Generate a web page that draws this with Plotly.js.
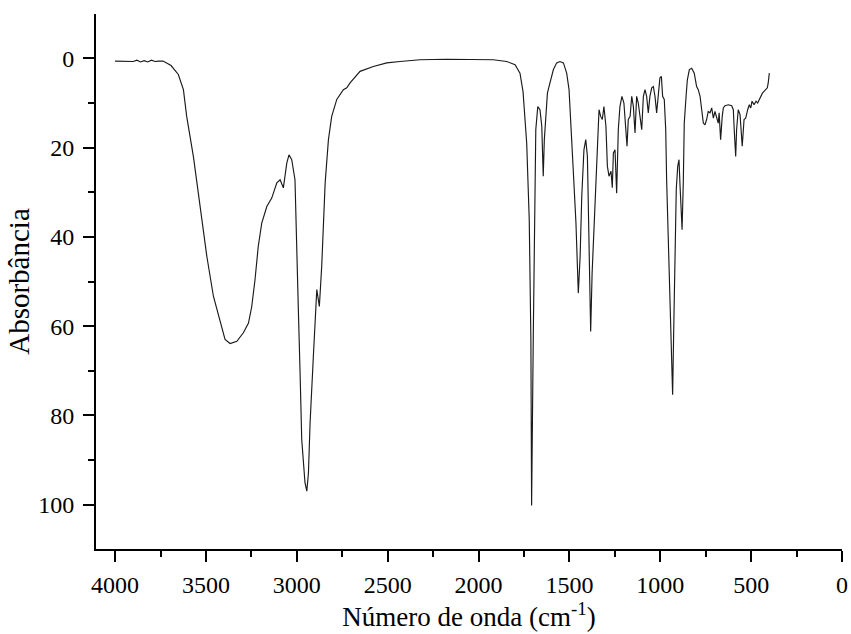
<!DOCTYPE html>
<html>
<head>
<meta charset="utf-8">
<script src="https://cdn.plot.ly/plotly-3.0.1.min.js"></script>
<style>html,body{margin:0;padding:0;background:#fff;}#chart{width:851px;height:634px;}</style>
</head>
<body>
<div id="chart"></div>
<script>
// IR spectrum
const wavenumber = [
 4000,3950,3900,3880,3860,3840,3820,3800,3780,3760,3736,3692,3652,3624,3606,3569,3532,3495,3459,3422,3395,3367,3330,3294,3266,3248,3230,3212,3193,3165,3138,3110,3092,3074,3055,3043,3028,3010,3000,2992,2982,2973,2955,2945,2936,2927,2909,2890,2876,2863,2844,2826,2808,2780,2744,2725,2707,2652,2579,2505,2432,2322,2175,1919,1845,1799,1772,1755,1735,1721,1712,1708,1699,1693,1685,1674,1662,1652,1647,1644,1638,1630,1621,1607,1588,1570,1552,1533,1515,1502,1491,1478,1464,1456,1451,1441,1432,1420,1410,1401,1396,1390,1383,1375,1365,1350,1337,1328,1319,1310,1299,1291,1282,1271,1264,1258,1249,1240,1231,1222,1211,1200,1189,1183,1176,1166,1157,1148,1139,1130,1121,1111,1102,1093,1084,1075,1066,1057,1047,1038,1029,1020,1011,1002,994,987,978,970,965,956,946,937,932,926,919,912,904,897,891,886,880,873,868,858,851,840,827,813,800,791,781,772,763,754,745,736,726,717,708,699,690,681,676,668,659,653,644,626,607,598,593,585,580,571,561,554,549,539,530,519,510,502,495,484,473,464,455,447,438,429,420,411,406,402,400
];
const absorbance = [
 0.6,0.6,0.7,0.4,0.8,0.5,0.8,0.4,0.7,0.6,0.6,1.6,3.6,7.0,13.0,22.0,33.2,44.4,53.3,59.3,63.0,63.9,63.4,61.5,59.3,55.6,49.6,42.1,36.9,33.2,31.3,27.9,27.2,29.0,23.4,21.6,22.7,27.2,40.6,55.6,70.5,85.4,95.1,97.0,92.9,81.7,66.8,51.8,55.6,46.6,27.9,18.2,13.0,9.2,7.0,6.6,5.5,2.9,1.8,1.0,0.7,0.3,0.2,0.3,0.7,1.4,3.3,7.5,19.0,36.1,63.0,100.2,63.0,35.4,16.0,10.8,11.5,15.2,21.2,26.4,18.2,12.2,7.8,5.5,2.5,1.0,0.7,1.0,3.3,7.0,14.5,25.7,36.9,45.1,52.6,44.4,30.9,20.5,18.2,22.0,33.2,48.1,61.2,48.1,37.6,22.0,11.5,13.0,13.7,10.8,15.2,24.2,26.4,25.3,29.0,21.2,20.5,30.2,16.0,10.8,8.5,10.0,16.0,19.7,13.7,13.0,8.5,10.8,16.7,8.5,10.0,13.0,16.0,8.5,7.0,8.5,12.2,8.5,6.6,6.3,8.5,12.2,7.4,4.4,4.0,8.5,9.2,16.0,27.2,42.1,53.3,68.2,75.4,60.8,42.1,29.4,24.2,22.7,28.7,34.6,38.4,27.2,14.5,8.5,4.8,2.5,2.2,3.3,6.3,7.0,8.5,11.5,14.5,14.9,13.7,11.9,12.2,11.1,13.4,11.9,13.0,14.5,12.2,18.2,13.0,11.1,10.6,10.4,10.6,11.5,16.0,22.0,16.0,11.5,12.6,16.0,19.7,13.7,13.4,11.5,10.4,11.1,9.6,10.4,9.6,10.0,9.2,8.5,7.8,7.4,7.0,6.6,5.5,4.5,3.3
];
const xTickVals = [4000,3500,3000,2500,2000,1500,1000,500,0];
const yTickVals = [0,20,40,60,80,100];

const serif = 'Liberation Serif';
const trace = {
  x: wavenumber, y: absorbance, type: 'scatter', mode: 'lines',
  line: {color: '#1a1a1a', width: 1.15}, hoverinfo: 'skip'
};
const layout = {
  width: 851, height: 634,
  margin: {l: 96, r: 9, t: 14, b: 85},
  paper_bgcolor: '#fff', plot_bgcolor: '#fff',
  showlegend: false,
  font: {family: serif, size: 24, color: '#000'},
  xaxis: {
    range: [4105, 0], showgrid: false, zeroline: false,
    showline: true, linecolor: '#000', linewidth: 2,
    ticks: 'outside', ticklen: 11, tickwidth: 2, tickcolor: '#000',
    tickvals: xTickVals,
    tickfont: {family: serif, size: 24, color: '#000'},
    ticklabelstandoff: 2,
    minor: {ticks: 'outside', ticklen: 6, tickwidth: 2, tickcolor: '#000', dtick: 250, showgrid: false},
    title: {text: 'Número de onda (cm<sup>-1</sup>)', font: {family: serif, size: 27, color: '#000'}, standoff: 4}
  },
  yaxis: {
    range: [109.95, -9.95], showgrid: false, zeroline: false,
    showline: true, linecolor: '#000', linewidth: 2,
    ticks: 'outside', ticklen: 11, tickwidth: 2, tickcolor: '#000',
    tickvals: yTickVals,
    tickfont: {family: serif, size: 24, color: '#000'},
    ticklabelstandoff: 4,
    minor: {ticks: 'outside', ticklen: 6, tickwidth: 2, tickcolor: '#000', dtick: 10, showgrid: false},
    title: {text: 'Absorbância', font: {family: serif, size: 29, color: '#000'}, standoff: 0}
  }
};
Plotly.newPlot('chart', [trace], layout, {staticPlot: true, displayModeBar: false});
</script>
</body>
</html>
